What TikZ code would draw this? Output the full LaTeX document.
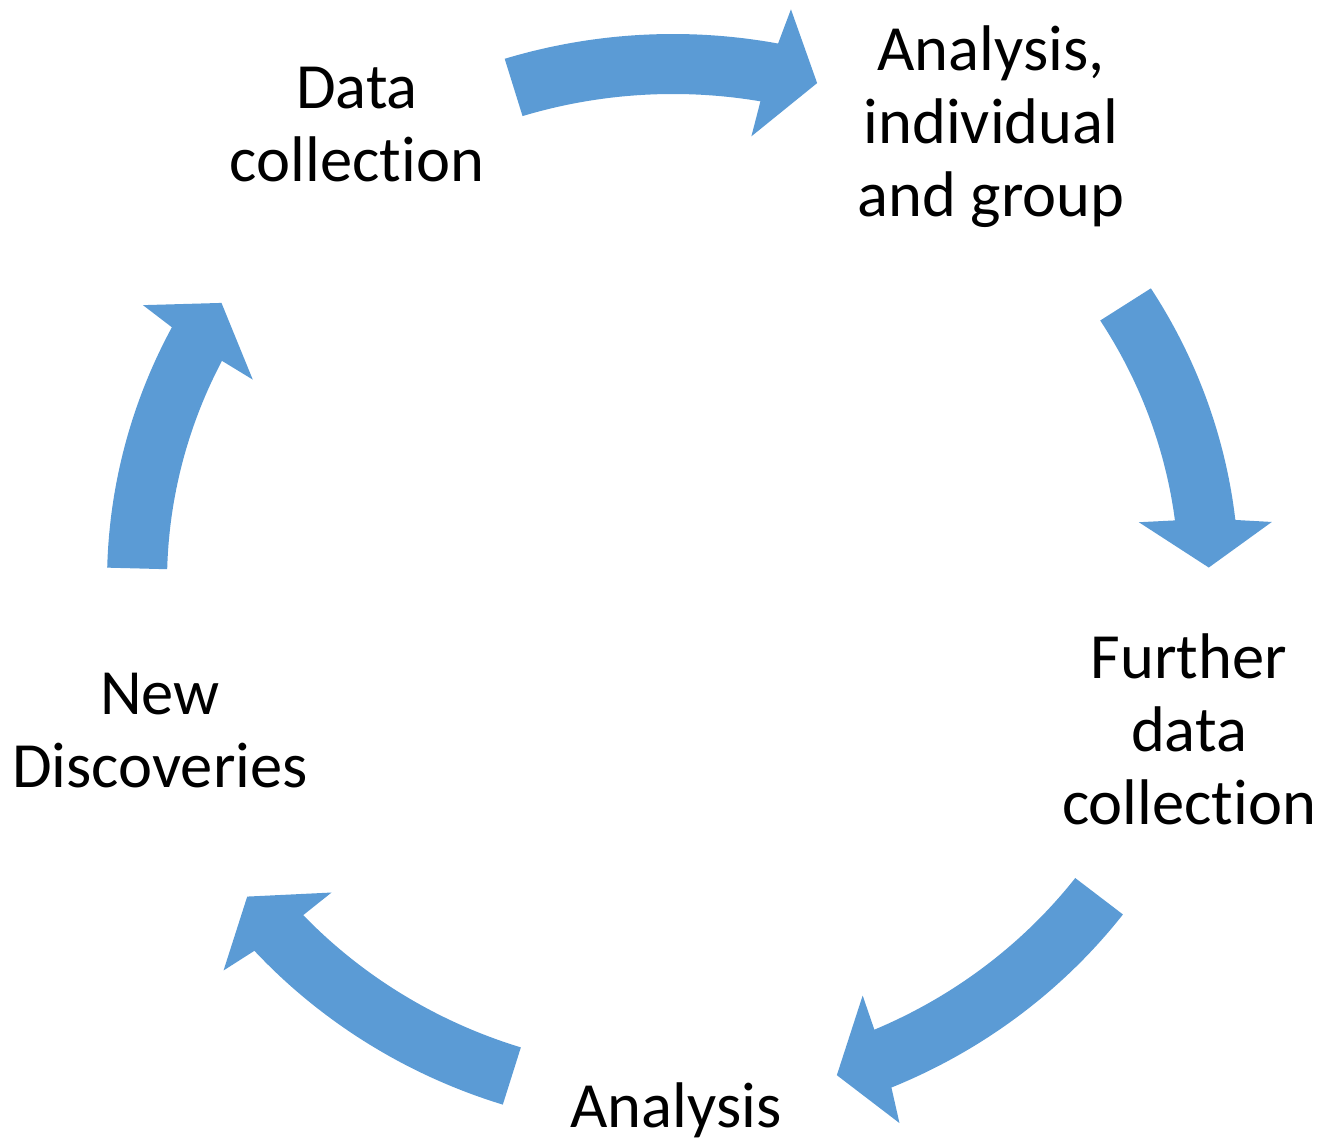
\documentclass[tikz,border=0pt]{standalone}
\usepackage{fontspec}
\setmainfont[Ligatures=NoCommon]{Carlito}
\definecolor{arrowblue}{HTML}{5B9BD5}
\newcommand\cycarrow[2]{%
  \fill[arrowblue]
    (#1:566 and 548)
    arc[start angle=#1, end angle={#2+4.9}, x radius=566, y radius=548]
    -- ({#2+4.3}:602 and 584)
    -- (#2:536 and 518)
    -- ({#2+6.0}:470 and 452)
    -- ({#2+5.65}:506 and 488)
    arc[start angle={#2+5.65}, end angle=#1, x radius=506, y radius=488]
    -- cycle;}
\begin{document}
\begin{tikzpicture}[x=1pt,y=1pt,
  lbl/.style={font=\fontsize{64.5}{73}\selectfont, align=center, inner sep=0pt, anchor=base}]
\useasboundingbox (0,0) rectangle (1340,1140);
\begin{scope}[shift={(673,558)}]
  \cycarrow{107.3}{74.4}
  \cycarrow{32.4}{1.6}
  \cycarrow{-37.35}{-72.2}
  \cycarrow{-107.5}{-142.6}
  \cycarrow{178.5}{147.4}
\end{scope}
\node[lbl] (dc) at (357,958) {Data\\collection};
\node[lbl] (aig) at (991,923) {Analysis,\\individual\\and group};
\node[lbl] (fdc) at (1189,315) {Further\\data\\collection};
\node[lbl] (an) at (676,13) {Analysis};
\node[lbl] (nd) at (160,352) {New\\Discoveries};
\end{tikzpicture}
\end{document}
